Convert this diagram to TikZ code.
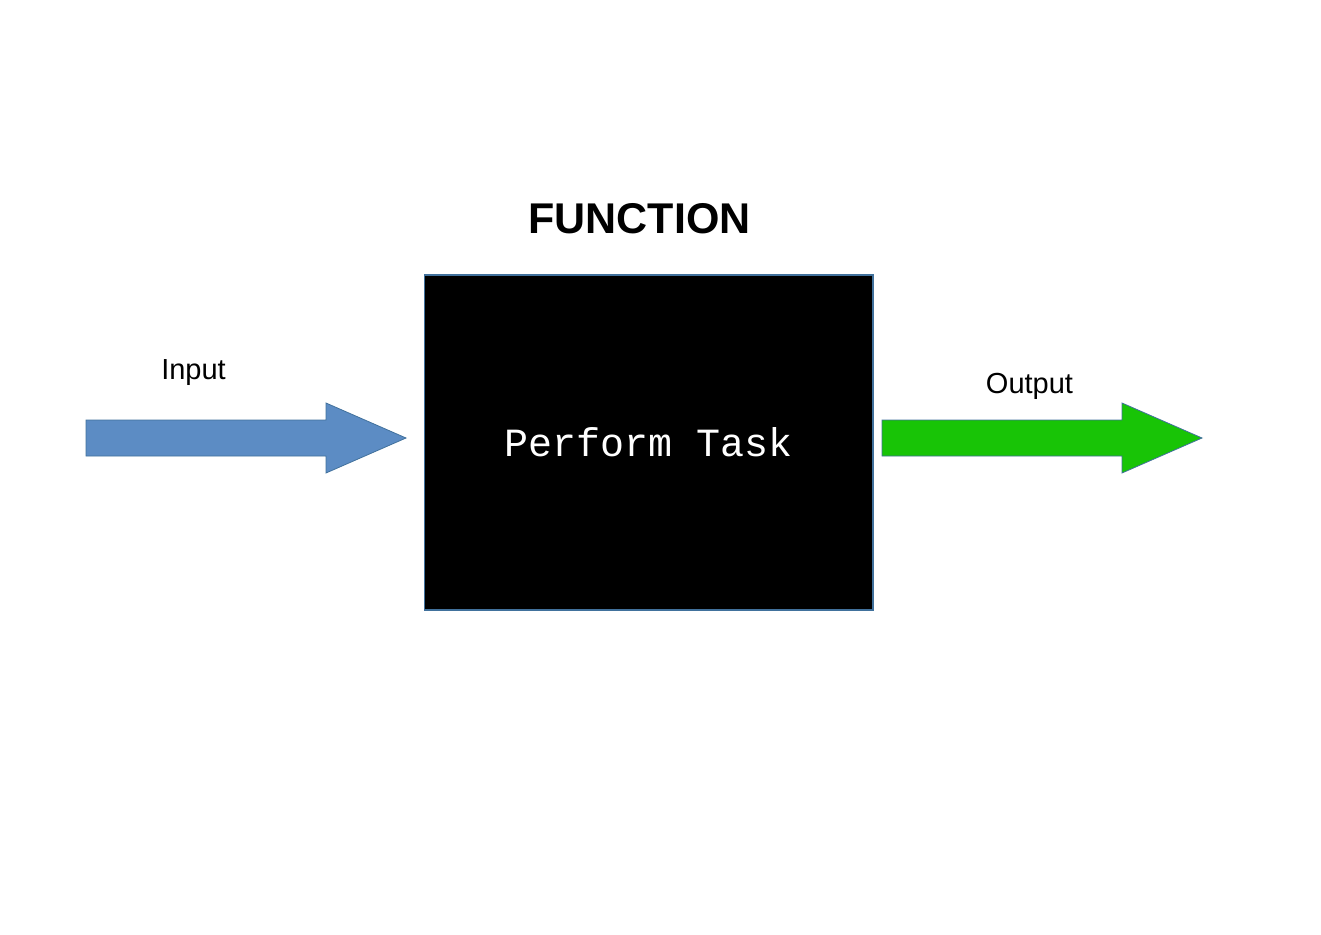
\documentclass[tikz,border=0pt]{standalone}
\usepackage{fontspec}
\setmainfont{Liberation Sans}
\setmonofont{Liberation Mono}
\usetikzlibrary{positioning}
\definecolor{edgeblue}{RGB}{65,113,156}
\definecolor{inblue}{RGB}{92,140,196}
\definecolor{outgreen}{RGB}{24,196,6}

\begin{document}
\begin{tikzpicture}[x=1pt, y=-1pt,
    funcbox/.style={draw=edgeblue, fill=black, line width=1.2pt, inner sep=0pt, outer sep=0pt,
      minimum width=448.5pt, minimum height=335pt, text=white,
      font=\ttfamily\fontsize{40}{48}\selectfont},
    blockarrow/.style={draw=edgeblue, line width=0.8pt, line join=miter},
    label/.style={inner sep=0pt, anchor=base, font=\fontsize{29}{35}\selectfont},
    title/.style={inner sep=0pt, anchor=base, font=\bfseries\fontsize{43}{52}\selectfont}]
    \useasboundingbox (0,0) rectangle (1321,934);

    \node[funcbox] (func) at (648.75,442.5) {Perform Task};
    \node[title] (functitle) at (639.5,233.3) {FUNCTION};
    \node[label] (input) at (193.5,379) {Input};
    \node[label] (output) at (1029.5,393) {Output};

    % Block arrows
    \coordinate (intip) at (406,438);
    \coordinate (outtip) at (1202,438);
    \draw[blockarrow, fill=inblue] (86,420) -- ++(240,0) -- ++(0,-17) -- (intip)
      -- (326,473) -- ++(0,-17) -- (86,456) -- cycle;
    \draw[blockarrow, fill=outgreen] (882,420) -- ++(240,0) -- ++(0,-17) -- (outtip)
      -- (1122,473) -- ++(0,-17) -- (882,456) -- cycle;
\end{tikzpicture}
\end{document}
